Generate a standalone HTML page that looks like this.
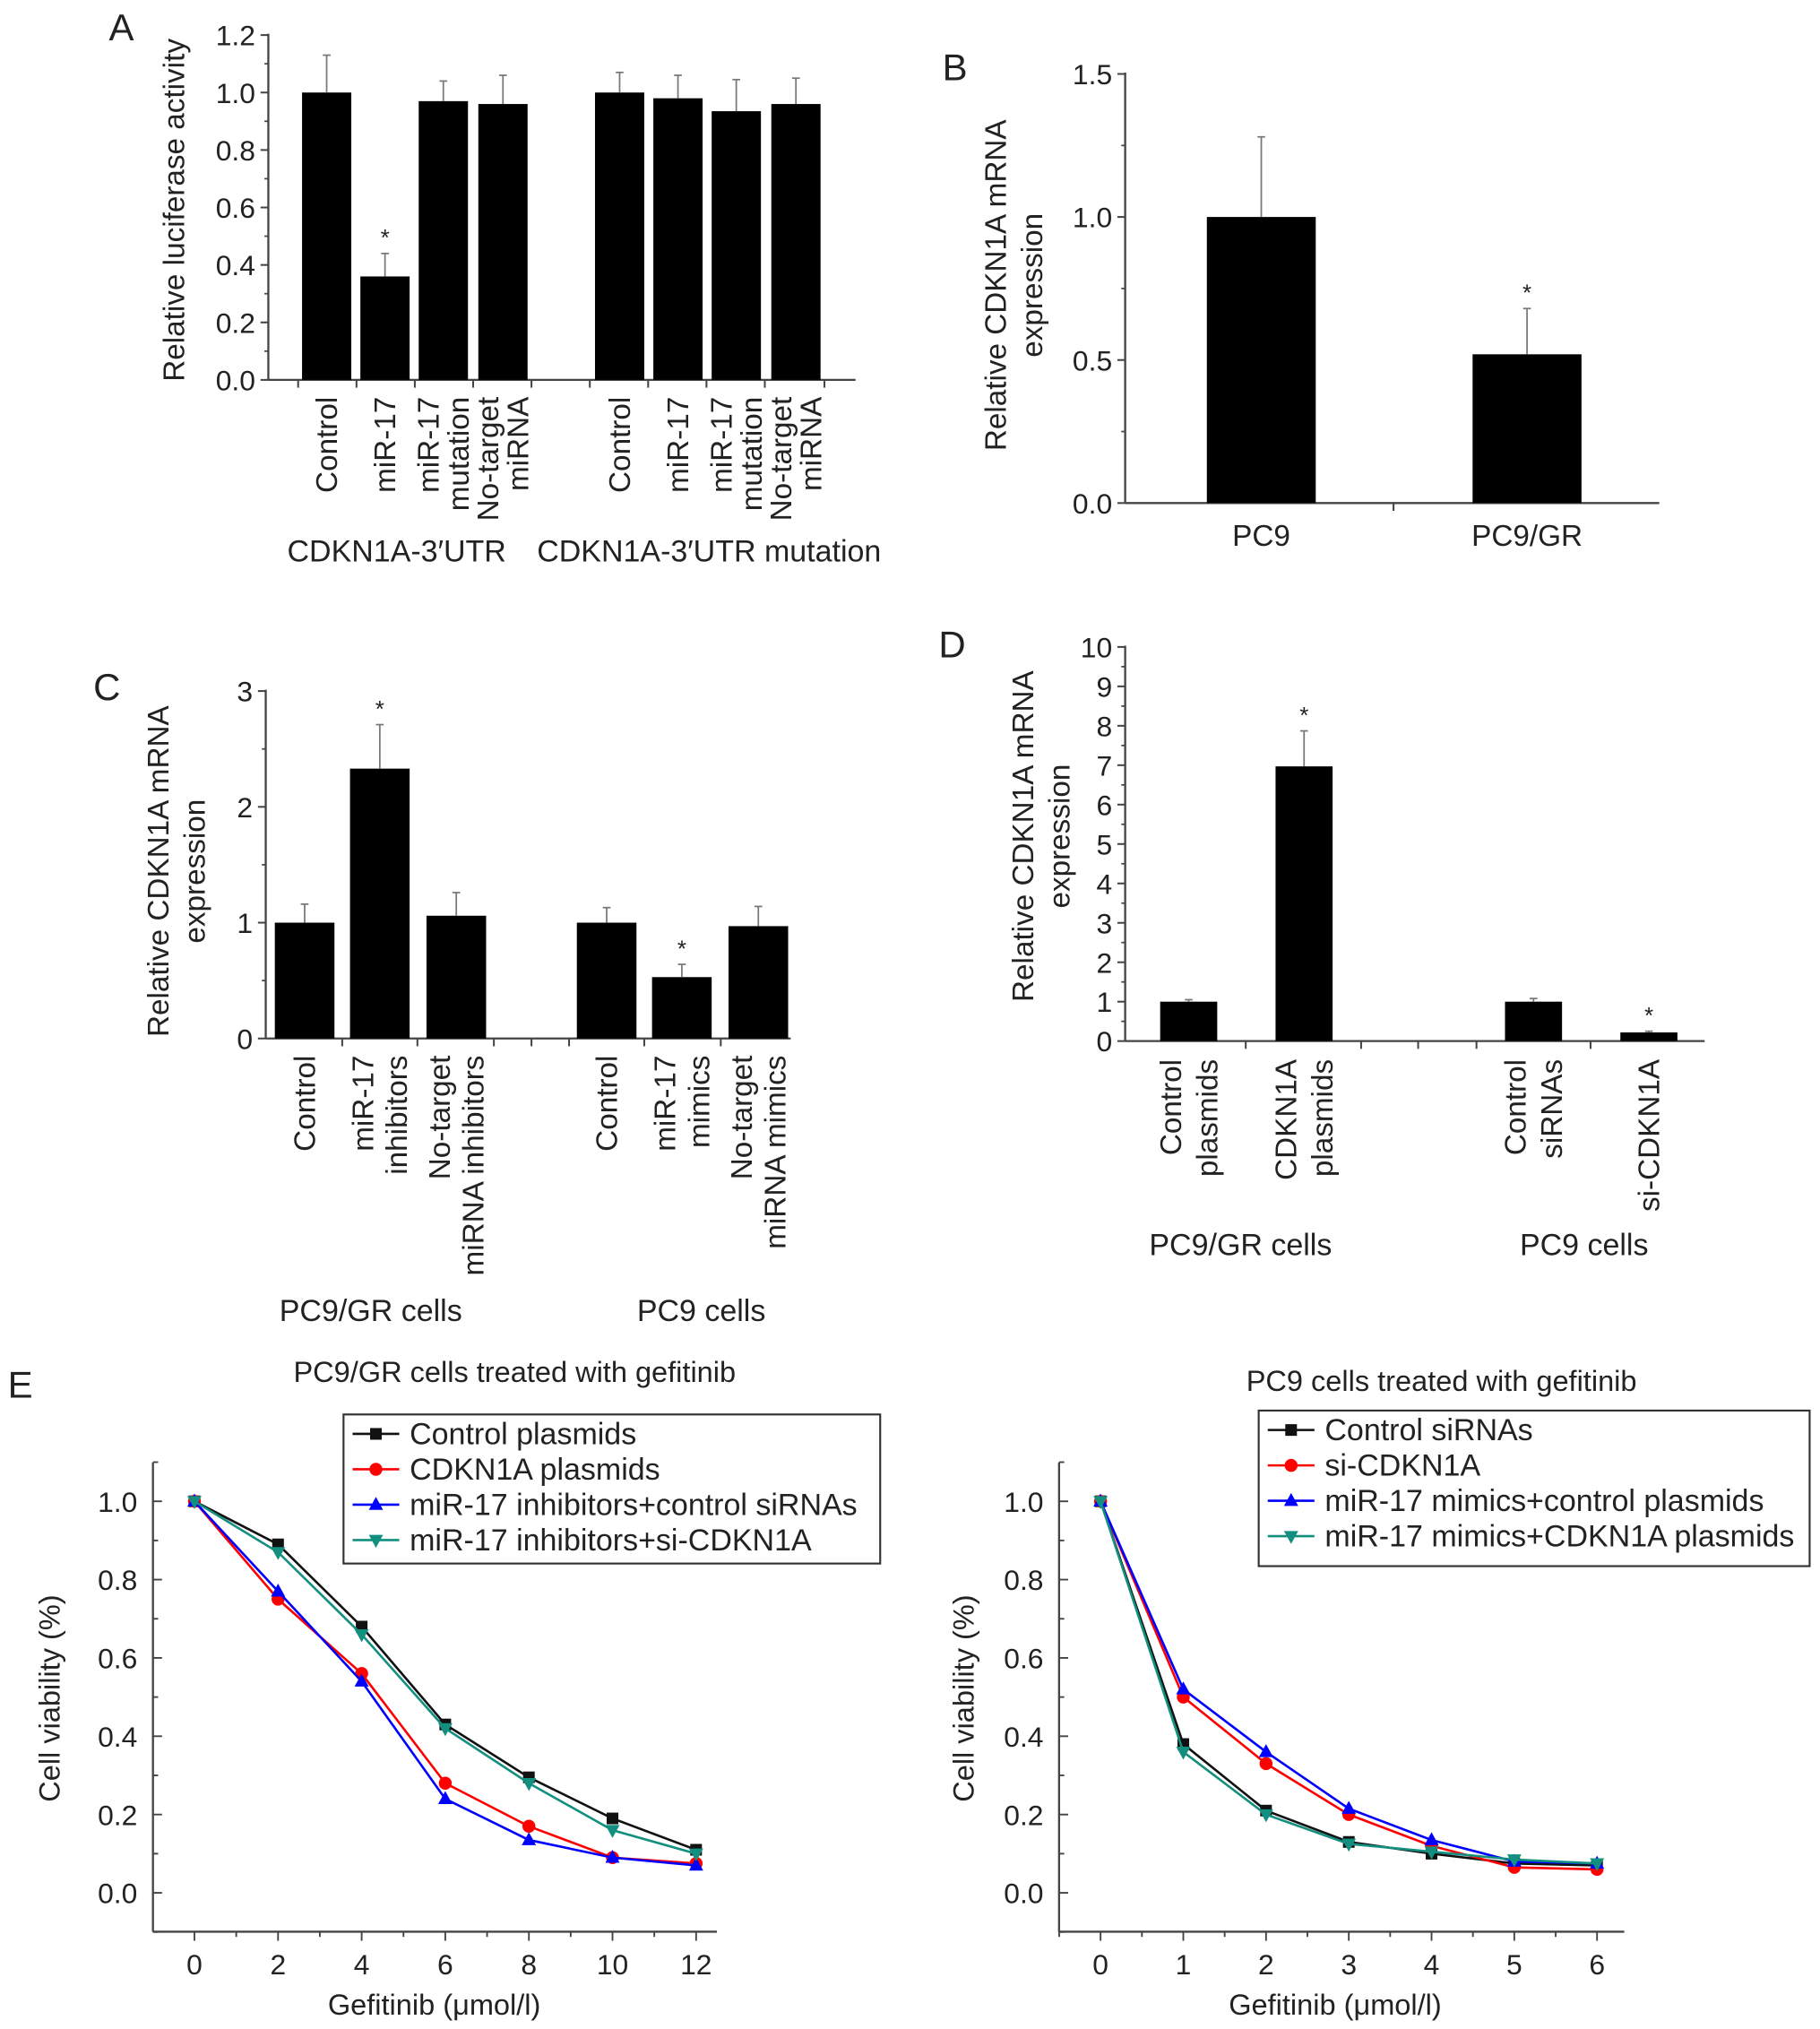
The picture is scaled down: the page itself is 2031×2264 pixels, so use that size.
<!DOCTYPE html>
<html><head><meta charset="utf-8"><style>
html,body{margin:0;padding:0;background:#fff}
svg{display:block}
text{font-family:"Liberation Sans",Arial,sans-serif;fill:#222}
</style></head><body>
<svg id="fig" xmlns="http://www.w3.org/2000/svg" width="2031" height="2264" viewBox="0 0 1404 1565"></svg>
<script>
// ---------- DATA ----------
const aCats = [["Control"],["miR-17"],["miR-17","mutation"],["No-target","miRNA"],["Control"],["miR-17"],["miR-17","mutation"],["No-target","miRNA"]];
const aVals = [1.0,0.36,0.97,0.96,1.0,0.98,0.935,0.96];
const aErrs = [0.13,0.08,0.07,0.10,0.07,0.08,0.11,0.09];
const aStars = [false,true,false,false,false,false,false,false];
const aTicks = ["0.0","0.2","0.4","0.6","0.8","1.0","1.2"];

const bCats = ["PC9","PC9/GR"];
const bVals = [1.0,0.52];
const bErrs = [0.28,0.16];
const bStars = [false,true];
const bTicks = ["0.0","0.5","1.0","1.5"];

const cCats = [["Control"],["miR-17","inhibitors"],["No-target","miRNA inhibitors"],["Control"],["miR-17","mimics"],["No-target","miRNA mimics"]];
const cVals = [1.0,2.33,1.06,1.0,0.53,0.97];
const cErrs = [0.16,0.38,0.2,0.13,0.11,0.17];
const cStars = [false,true,false,false,true,false];
const cTicks = ["0","1","2","3"];

const dCats = [["Control","plasmids"],["CDKN1A","plasmids"],["Control","siRNAs"],["si-CDKN1A"]];
const dVals = [1.0,6.97,1.0,0.22];
const dErrs = [0.05,0.9,0.08,0.03];
const dStars = [false,true,false,true];
const dTicks = ["0","1","2","3","4","5","6","7","8","9","10"];

const eLeftX = [0,2,4,6,8,10,12];
const eLeftBlack = [1.0,0.89,0.68,0.43,0.295,0.19,0.11];
const eLeftRed = [1.0,0.75,0.56,0.28,0.17,0.09,0.075];
const eLeftBlue = [1.0,0.77,0.54,0.24,0.135,0.09,0.07];
const eLeftTeal = [1.0,0.87,0.66,0.42,0.28,0.16,0.10];
const eLeftLegend = ["Control plasmids","CDKN1A plasmids","miR-17 inhibitors+control siRNAs","miR-17 inhibitors+si-CDKN1A"];

const eRightX = [0,1,2,3,4,5,6];
const eRightBlack = [1.0,0.38,0.21,0.13,0.10,0.075,0.07];
const eRightRed = [1.0,0.50,0.33,0.20,0.12,0.065,0.06];
const eRightBlue = [1.0,0.52,0.36,0.215,0.135,0.08,0.075];
const eRightTeal = [1.0,0.36,0.20,0.125,0.105,0.085,0.075];
const eRightLegend = ["Control siRNAs","si-CDKN1A","miR-17 mimics+control plasmids","miR-17 mimics+CDKN1A plasmids"];
const eYTicks = ["0.0","0.2","0.4","0.6","0.8","1.0"];

// ---------- HELPERS ----------
const NS="http://www.w3.org/2000/svg";
const svg=document.getElementById('fig');
function el(tag,attrs,parent,txt){const e=document.createElementNS(NS,tag);for(const k in attrs)e.setAttribute(k,attrs[k]);if(txt!==undefined)e.textContent=txt;(parent||svg).appendChild(e);return e;}
function grp(name){const g=el('g',{});


return g;}
function label(txt,x,y,size,name,extra){const t=el('text',Object.assign({x:x,y:y,'font-size':size},extra||{}),svg,txt);


return t;}

function barChart(o){
  const g=grp(o.name);
  const ys=v=>o.y0-(v-o.vmin)/(o.vmax-o.vmin)*(o.y0-o.y1);
  el('line',{x1:o.x0,y1:o.y0,x2:o.x0,y2:o.y1-1,stroke:'#444','stroke-width':1.6},g);
  el('line',{x1:o.x0,y1:o.y0,x2:o.xEnd,y2:o.y0,stroke:'#444','stroke-width':1.6},g);
  o.ticks.forEach((t,i)=>{const v=o.vmin+i*(o.vmax-o.vmin)/(o.ticks.length-1);const y=ys(v);
    el('line',{x1:o.x0-6,y1:y,x2:o.x0,y2:y,stroke:'#444','stroke-width':1.4},g);
    if(o.minor&&i<o.ticks.length-1){const ym=ys(v+(o.vmax-o.vmin)/(o.ticks.length-1)/2);el('line',{x1:o.x0-3,y1:ym,x2:o.x0,y2:ym,stroke:'#444','stroke-width':1.2},g);}
    const tl=el('text',{x:o.x0-10,y:y+8,'font-size':o.fs,'text-anchor':'end'},g,t);
    
    
  });
  (o.xticks||[]).forEach(x=>el('line',{x1:x,y1:o.y0,x2:x,y2:o.y0+6,stroke:'#444','stroke-width':1.4},g));
  o.vals.forEach((v,i)=>{const cx=o.cx[i];const y=ys(v);
    const r=el('rect',{x:cx-o.bw/2,y:y,width:o.bw,height:o.y0-y,fill:'#000'},g);
    
    
    const ye=ys(v+o.errs[i]);
    el('line',{x1:cx,y1:y,x2:cx,y2:ye,stroke:'#777','stroke-width':1.2},g);
    el('line',{x1:cx-3,y1:ye,x2:cx+3,y2:ye,stroke:'#777','stroke-width':1.2},g);
    if(o.stars[i]){const s=el('text',{x:cx,y:ye-6,'font-size':18,'text-anchor':'middle'},g,'*');
      
      }
    const lines=o.cats[i];
    if(o.rot){
      const n=lines.length;
      lines.forEach((ln,k)=>{const lx=cx+(k-(n-1)/2)*o.lh+8;
        const t=el('text',{x:lx,y:o.labTop,'font-size':o.cfs,'text-anchor':'end',transform:`rotate(-90 ${lx} ${o.labTop})`},g,ln);
        
        });
    } else {
      const t=el('text',{x:cx,y:o.labTop,'font-size':o.cfs,'text-anchor':'middle'},g,lines);
      
      
    }
  });
}

// Panel A
label('A',84,31,29,'panel-label-a');
barChart({name:'chart-a',x0:207,xEnd:660,y0:293,y1:27,vmin:0,vmax:1.2,ticks:aTicks,minor:true,fs:22,cfs:23,
  cx:[252,297,342,388,478,523,568,614],bw:38,vals:aVals,errs:aErrs,stars:aStars,cats:aCats,rot:true,lh:23,labTop:306,
  xticks:[230,275,320,365,410,455,500,545,590,636]});
label('Relative luciferase activity',142,162,23,'y-axis-title-a',{'text-anchor':'middle',transform:'rotate(-90 142 162)'});
label('CDKN1A-3′UTR',306,433,23.5,'group-label-a1',{'text-anchor':'middle'});
label('CDKN1A-3′UTR mutation',547,433,23.5,'group-label-a2',{'text-anchor':'middle'});

// Panel B
label('B',727,62,29,'panel-label-b');
barChart({name:'chart-b',x0:868,xEnd:1280,y0:388,y1:57,vmin:0,vmax:1.5,ticks:bTicks,minor:true,fs:22,cfs:23,
  cx:[973,1178],bw:84,vals:bVals,errs:bErrs,stars:bStars,cats:bCats,rot:false,labTop:421,xticks:[1075]});
label('Relative CDKN1A mRNA',776,220,23,'y-axis-title-b',{'text-anchor':'middle',transform:'rotate(-90 776 220)'});
label('expression',804,220,23,'y-axis-title-b2',{'text-anchor':'middle',transform:'rotate(-90 804 220)'});

// Panel C
label('C',72,540,29,'panel-label-c');
barChart({name:'chart-c',x0:205,xEnd:610,y0:801,y1:533,vmin:0,vmax:3,ticks:cTicks,minor:true,fs:22,cfs:23,
  cx:[235,293,352,468,526,585],bw:46,vals:cVals,errs:cErrs,stars:cStars,cats:cCats,rot:true,lh:26,labTop:814,
  xticks:[264,322,381,410,439,497,556]});
label('Relative CDKN1A mRNA',130,672,23,'y-axis-title-c',{'text-anchor':'middle',transform:'rotate(-90 130 672)'});
label('expression',158,672,23,'y-axis-title-c2',{'text-anchor':'middle',transform:'rotate(-90 158 672)'});
label('PC9/GR cells',286,1019,23.5,'group-label-c1',{'text-anchor':'middle'});
label('PC9 cells',541,1019,23.5,'group-label-c2',{'text-anchor':'middle'});

// Panel D
label('D',724,507,29,'panel-label-d');
barChart({name:'chart-d',x0:868,xEnd:1315,y0:803,y1:499,vmin:0,vmax:10,ticks:dTicks,minor:true,fs:22,cfs:23,
  cx:[917,1006,1183,1272],bw:44,vals:dVals,errs:dErrs,stars:dStars,cats:dCats,rot:true,lh:28,labTop:817,
  xticks:[961,1050,1094,1139,1227]});
label('Relative CDKN1A mRNA',797,645,23,'y-axis-title-d',{'text-anchor':'middle',transform:'rotate(-90 797 645)'});
label('expression',825,645,23,'y-axis-title-d2',{'text-anchor':'middle',transform:'rotate(-90 825 645)'});
label('PC9/GR cells',957,968,23.5,'group-label-d1',{'text-anchor':'middle'});
label('PC9 cells',1222,968,23.5,'group-label-d2',{'text-anchor':'middle'});

// Panel E
label('E',6,1078,29,'panel-label-e');
const colors=['#111','#ff0000','#0000ff','#138f80'];
const markers=['square','circle','up','down'];
function marker(g,type,x,y,c){
  if(type==='square')return el('rect',{x:x-4.5,y:y-4.5,width:9,height:9,fill:c},g);
  if(type==='circle')return el('circle',{cx:x,cy:y,r:5,fill:c},g);
  if(type==='up')return el('polygon',{points:`${x},${y-6} ${x-5.5},${y+4} ${x+5.5},${y+4}`,fill:c},g);
  return el('polygon',{points:`${x},${y+6} ${x-5.5},${y-4} ${x+5.5},${y-4}`,fill:c},g);
}
function lineChart(o){
  const g=grp(o.name);
  const xs=v=>o.px0+(v-o.xs[0])/(o.xs[o.xs.length-1]-o.xs[0])*(o.px1-o.px0);
  const ys=v=>o.py0-v*(o.py0-o.py1);
  el('line',{x1:o.ax,y1:o.ab,x2:o.ax,y2:o.at,stroke:'#444','stroke-width':1.6},g);
  el('line',{x1:o.ax,y1:o.ab,x2:o.axEnd,y2:o.ab,stroke:'#444','stroke-width':1.6},g);
  for(let k=-1;k<=11;k++){const y=ys(k/10);const major=k%2===0&&k>=0&&k<=10;
    el('line',{x1:o.ax,y1:y,x2:o.ax+(major?7:4),y2:y,stroke:'#444','stroke-width':1.3},g);}
  eYTicks.forEach((t,i)=>{const tl=el('text',{x:o.ax-12,y:ys(i*0.2)+8,'font-size':22,'text-anchor':'end'},g,t);
    
    });
  const step=(o.px1-o.px0)/(o.xs.length-1);
  for(let k=-1;k<=o.xs.length;k++){const x=o.px0+k*step;if(x>o.ax&&x<=o.axEnd)el('line',{x1:x,y1:o.ab,x2:x,y2:o.ab+7,stroke:'#444','stroke-width':1.3},g);
    const xm=x+step/2;if(xm>o.ax&&xm<=o.axEnd)el('line',{x1:xm,y1:o.ab,x2:xm,y2:o.ab+4,stroke:'#444','stroke-width':1.3},g);}
  o.xs.forEach(v=>{const tl=el('text',{x:xs(v),y:o.ab+33,'font-size':22,'text-anchor':'middle'},g,String(v));
    
    });
  o.series.forEach((s,si)=>{
    const pts=o.xs.map((v,i)=>xs(v)+','+ys(s[i])).join(' ');
    const pl=el('polyline',{points:pts,fill:'none',stroke:colors[si],'stroke-width':1.8},g);
    
    
    o.xs.forEach((v,i)=>{const m=marker(g,markers[si],xs(v),ys(s[i]),colors[si]);
      
      });
  });
  const lg=el('g',{},g);
  
  
  el('rect',{x:o.lx,y:o.ly,width:o.lw,height:o.lh,fill:'#fff',stroke:'#333','stroke-width':1.5},lg);
  o.legend.forEach((t,i)=>{const y=o.ly+15+i*27.3;
    el('line',{x1:o.lx+7,y1:y,x2:o.lx+43,y2:y,stroke:colors[i],'stroke-width':1.8},lg);
    marker(lg,markers[i],o.lx+25,y,colors[i]);
    const tt=el('text',{x:o.lx+51,y:y+8,'font-size':23.5},lg,t);
    
    });
}
lineChart({name:'chart-e-left',xs:eLeftX,series:[eLeftBlack,eLeftRed,eLeftBlue,eLeftTeal],legend:eLeftLegend,
  px0:150,px1:537,py0:1460,py1:1158,ax:118,axEnd:553,ab:1490,at:1128,lx:265,ly:1091,lw:414,lh:115});
lineChart({name:'chart-e-right',xs:eRightX,series:[eRightBlack,eRightRed,eRightBlue,eRightTeal],legend:eRightLegend,
  px0:849,px1:1232,py0:1460,py1:1158,ax:817,axEnd:1253,ab:1490,at:1128,lx:971,ly:1088,lw:425,lh:120});
label('PC9/GR cells treated with gefitinib',397,1066,22.5,'chart-title-e-left',{'text-anchor':'middle'});
label('PC9 cells treated with gefitinib',1112,1073,22.5,'chart-title-e-right',{'text-anchor':'middle'});
label('Gefitinib (μmol/l)',335,1554,22.5,'x-axis-title-e-left',{'text-anchor':'middle'});
label('Gefitinib (μmol/l)',1030,1554,22.5,'x-axis-title-e-right',{'text-anchor':'middle'});
label('Cell viability (%)',46,1310,22.5,'y-axis-title-e-left',{'text-anchor':'middle',transform:'rotate(-90 46 1310)'});
label('Cell viability (%)',751,1310,22.5,'y-axis-title-e-right',{'text-anchor':'middle',transform:'rotate(-90 751 1310)'});
</script>
</body></html>
